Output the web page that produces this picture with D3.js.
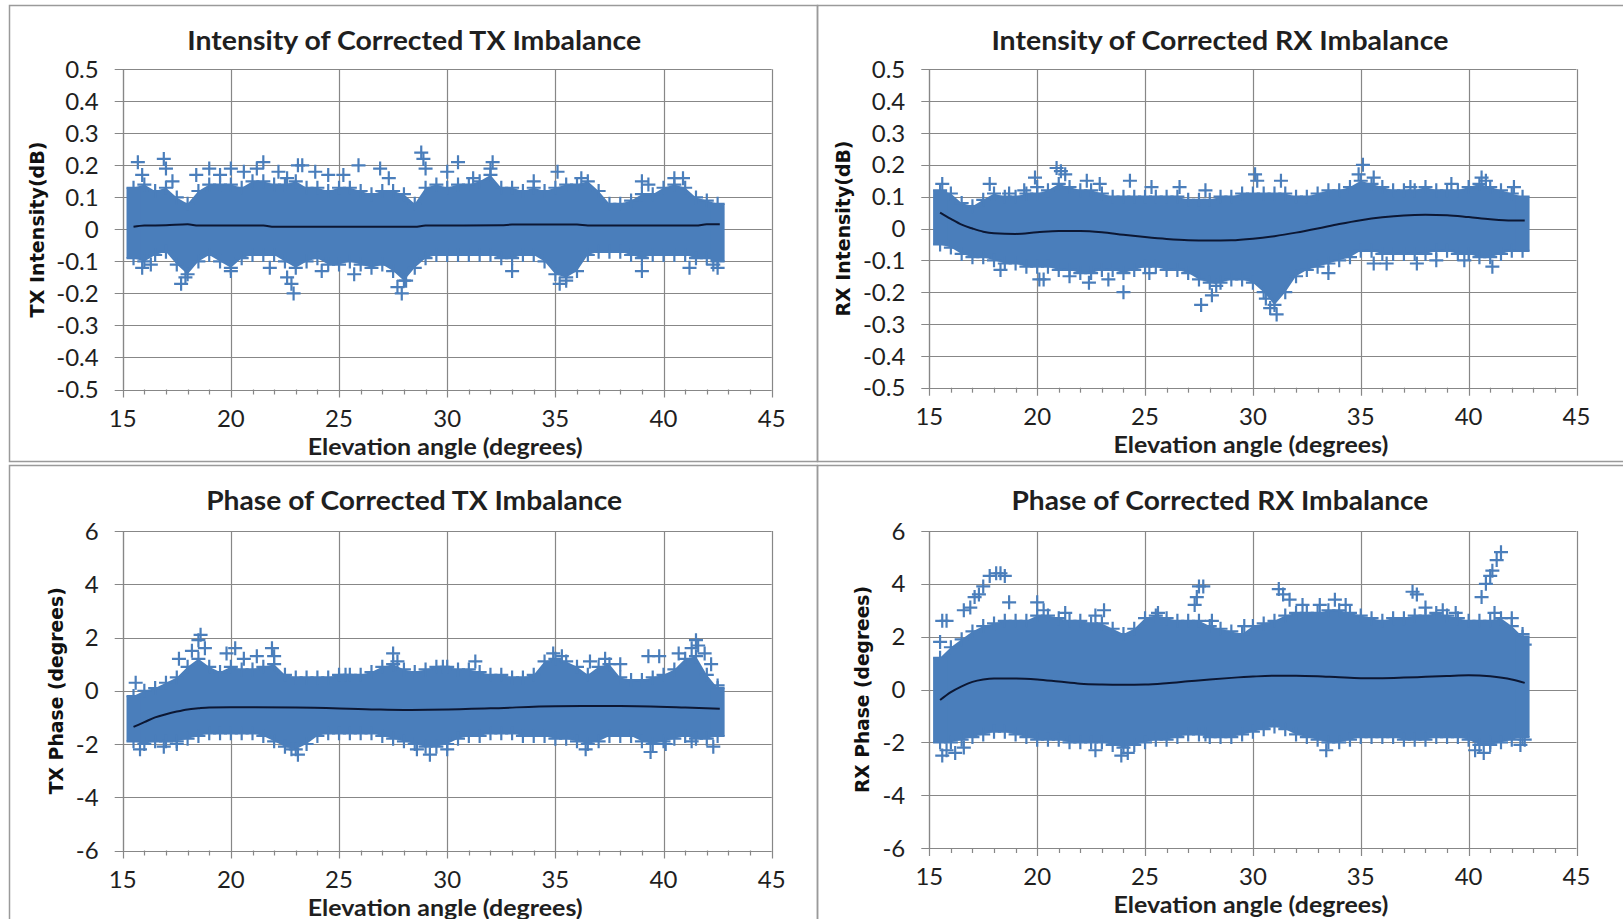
<!DOCTYPE html>
<html>
<head>
<meta charset="utf-8">
<script src="https://cdn.jsdelivr.net/npm/d3@7/dist/d3.min.js"></script>
<style>
html,body{margin:0;padding:0;background:#fff;}
svg{display:block;}
</style>
</head>
<body>
<svg id="fig" width="1623" height="919"></svg>
<script>
// ---------------- DATA ----------------
const xTicks = [15, 20, 25, 30, 35, 40, 45];
const intensityTicks = [0.5, 0.4, 0.3, 0.2, 0.1, 0, -0.1, -0.2, -0.3, -0.4, -0.5];
const phaseTicks = [6, 4, 2, 0, -2, -4, -6];

// elevation angles at which the dense band edges were read
const angleSamples = [15.5,16,16.5,17,17.5,18,18.5,19,19.5,20,20.5,21,21.5,22,22.5,23,23.5,24,24.5,25,
  25.5,26,26.5,27,27.5,28,28.5,29,29.5,30,30.5,31,31.5,32,32.5,33,33.5,34,34.5,35,
  35.5,36,36.5,37,37.5,38,38.5,39,39.5,40,40.5,41,41.5,42,42.5];

// --- TX intensity (dB)
const txIntHi = [0.13,0.14,0.12,0.13,0.10,0.08,0.12,0.14,0.14,0.14,0.13,0.15,0.15,0.14,0.14,0.15,0.13,0.13,0.12,0.13,
  0.13,0.12,0.11,0.12,0.12,0.11,0.08,0.13,0.14,0.13,0.14,0.14,0.15,0.17,0.13,0.13,0.12,0.13,0.12,0.13,
  0.14,0.14,0.15,0.12,0.08,0.08,0.09,0.11,0.11,0.13,0.14,0.13,0.10,0.09,0.08];
const txIntLo = [-0.09,-0.10,-0.08,-0.07,-0.11,-0.14,-0.10,-0.08,-0.10,-0.12,-0.09,-0.08,-0.08,-0.08,-0.10,-0.12,-0.10,-0.09,-0.11,-0.11,
  -0.10,-0.11,-0.12,-0.11,-0.13,-0.16,-0.12,-0.09,-0.08,-0.08,-0.08,-0.08,-0.08,-0.08,-0.09,-0.09,-0.08,-0.08,-0.10,-0.14,
  -0.15,-0.13,-0.08,-0.07,-0.07,-0.07,-0.08,-0.09,-0.08,-0.08,-0.08,-0.08,-0.09,-0.09,-0.10];
const txIntOutliers = [[15.7,0.21],[15.9,0.17],[16.9,0.22],[17.0,0.19],[17.3,0.15],[18.4,0.17],[19.0,0.19],[19.5,0.17],
  [20.0,0.19],[20.6,0.18],[21.2,0.19],[21.5,0.21],[22.2,0.18],[22.6,0.16],[23.1,0.20],[23.3,0.20],[23.9,0.18],[24.5,0.17],
  [25.2,0.17],[25.9,0.20],[26.9,0.19],[27.3,0.16],[28.8,0.24],[28.9,0.22],[29.0,0.19],[30.0,0.18],[30.5,0.21],[31.2,0.16],
  [32.1,0.21],[32.0,0.19],[34.0,0.15],[35.1,0.18],[36.2,0.16],[39.0,0.15],[39.3,0.14],[40.5,0.16],[40.9,0.16],
  [15.9,-0.12],[16.3,-0.11],[17.7,-0.17],[17.9,-0.15],[20.0,-0.13],[21.8,-0.12],[22.9,-0.20],[22.8,-0.17],[22.6,-0.15],
  [24.2,-0.13],[25.7,-0.14],[27.9,-0.20],[27.7,-0.18],[28.1,-0.16],[33.0,-0.13],[35.2,-0.17],[35.5,-0.16],[39.0,-0.13],
  [41.2,-0.12],[42.3,-0.11],[42.5,-0.12]];
const txIntTrendX = [15.5,16,17,18,18.5,20,21.5,22,25,28.5,29,32.5,33,36,36.5,41.5,42,42.6];
const txIntTrendY = [0.008,0.012,0.013,0.016,0.012,0.012,0.012,0.008,0.008,0.008,0.012,0.013,0.015,0.015,0.012,0.012,0.016,0.016];

// --- RX intensity (dB)
const rxIntHi = [0.12,0.11,0.08,0.07,0.09,0.11,0.10,0.10,0.11,0.11,0.12,0.14,0.13,0.12,0.12,0.11,0.10,0.10,0.10,0.10,
  0.10,0.10,0.10,0.09,0.09,0.09,0.10,0.10,0.11,0.11,0.11,0.11,0.11,0.10,0.10,0.11,0.12,0.12,0.13,0.15,
  0.14,0.13,0.12,0.12,0.12,0.13,0.12,0.12,0.12,0.13,0.14,0.13,0.12,0.11,0.10];
const rxIntLo = [-0.05,-0.06,-0.08,-0.09,-0.09,-0.10,-0.11,-0.11,-0.12,-0.12,-0.12,-0.13,-0.13,-0.14,-0.14,-0.13,-0.13,-0.14,-0.13,-0.12,
  -0.12,-0.13,-0.13,-0.14,-0.16,-0.17,-0.17,-0.16,-0.16,-0.17,-0.20,-0.24,-0.20,-0.15,-0.13,-0.12,-0.11,-0.10,-0.09,-0.07,
  -0.07,-0.08,-0.08,-0.08,-0.08,-0.08,-0.07,-0.07,-0.08,-0.08,-0.09,-0.09,-0.08,-0.07,-0.07];
const rxIntOutliers = [[15.6,0.14],[17.8,0.14],[18.7,0.11],[19.4,0.12],[19.9,0.16],[20.0,0.13],[20.9,0.19],[21.1,0.18],
  [21.3,0.17],[22.3,0.15],[22.9,0.14],[24.3,0.15],[25.3,0.13],[26.6,0.13],[27.8,0.12],[30.1,0.17],[30.2,0.15],[31.3,0.15],
  [35.1,0.20],[34.9,0.17],[35.6,0.16],[37.3,0.13],[39.2,0.14],[40.6,0.16],[40.8,0.15],[42.1,0.13],
  [18.3,-0.13],[20.1,-0.16],[20.3,-0.16],[21.5,-0.15],[22.4,-0.17],[23.3,-0.16],[24.0,-0.20],[25.2,-0.14],[27.6,-0.24],
  [28.1,-0.21],[28.3,-0.18],[30.8,-0.25],[31.1,-0.27],[30.6,-0.22],[33.5,-0.14],[35.6,-0.11],[36.2,-0.11],[37.6,-0.11],
  [38.5,-0.10],[39.8,-0.10],[41.1,-0.12]];
const rxIntTrendX = [15.5,16,16.5,17,17.5,18,19,20,21,22,23,24,25,26,27,28,29,30,31,32,33,34,35,36,37,38,39,40,41,42,42.6];
const rxIntTrendY = [0.05,0.03,0.012,0.0,-0.01,-0.015,-0.017,-0.012,-0.008,-0.008,-0.012,-0.02,-0.027,-0.033,-0.037,-0.038,
  -0.037,-0.032,-0.024,-0.013,0.0,0.014,0.026,0.035,0.041,0.043,0.042,0.036,0.029,0.025,0.025];

// --- TX phase (degrees)
const txPhHi = [-0.2,0.0,0.1,0.3,0.5,0.9,1.2,0.9,0.7,0.9,0.8,0.8,0.9,1.0,0.6,0.5,0.5,0.5,0.5,0.6,
  0.6,0.6,0.7,0.9,1.0,0.8,0.7,0.8,0.9,0.9,0.8,0.8,0.7,0.6,0.6,0.5,0.5,0.6,1.1,1.2,
  1.1,0.9,0.6,0.9,1.0,0.5,0.4,0.4,0.5,0.6,0.8,1.2,1.3,0.6,0.1];
const txPhLo = [-1.9,-2.0,-1.9,-1.9,-1.9,-1.8,-1.7,-1.6,-1.6,-1.6,-1.6,-1.6,-1.7,-1.9,-2.1,-2.2,-2.0,-1.7,-1.6,-1.6,
  -1.6,-1.6,-1.6,-1.7,-1.8,-1.9,-2.0,-2.1,-2.1,-2.0,-1.8,-1.7,-1.7,-1.6,-1.6,-1.6,-1.7,-1.7,-1.7,-1.8,
  -1.8,-1.9,-2.0,-1.9,-1.7,-1.7,-1.7,-1.9,-2.0,-1.9,-1.8,-1.7,-1.8,-1.8,-1.7];
const txPhOutliers = [[15.6,0.3],[17.6,1.2],[18.2,1.5],[18.5,1.9],[18.6,2.1],[18.8,1.6],[19.8,1.4],[20.2,1.6],[20.6,1.2],
  [21.2,1.3],[21.9,1.6],[22.0,1.3],[25.3,0.6],[27.5,1.4],[27.7,1.1],[29.8,0.9],[31.3,1.1],[34.9,1.4],[35.3,1.3],[36.6,1.1],
  [37.3,1.2],[38.0,1.0],[39.3,1.3],[39.8,1.3],[40.7,1.4],[41.3,1.6],[41.5,1.9],[41.6,1.7],[41.9,1.4],[42.2,1.0],[42.5,0.2],
  [15.8,-2.2],[16.9,-2.1],[17.5,-2.0],[23.1,-2.4],[22.8,-2.2],[28.6,-2.2],[29.2,-2.4],[30.0,-2.2],[36.4,-2.2],[39.4,-2.3],
  [40.1,-2.0],[41.3,-1.9],[42.3,-2.1]];
const txPhTrendX = [15.5,16,16.5,17,17.5,18,18.5,19,20,23,26.5,28,32,35,38,41,42.6];
const txPhTrendY = [-1.36,-1.18,-1.0,-0.88,-0.78,-0.7,-0.66,-0.63,-0.62,-0.63,-0.7,-0.72,-0.66,-0.58,-0.57,-0.63,-0.68];

// --- RX phase (degrees)
const rxPhHi = [1.2,1.6,1.9,2.2,2.4,2.5,2.6,2.6,2.6,2.8,2.8,2.7,2.6,2.6,2.5,2.5,2.3,2.1,2.3,2.7,
  2.8,2.7,2.6,2.6,2.6,2.4,2.3,2.2,2.1,2.4,2.5,2.6,2.8,2.9,2.9,2.9,3.0,3.0,2.9,2.8,
  2.7,2.6,2.7,2.7,2.8,2.8,2.9,2.8,2.7,2.6,2.6,2.6,2.7,2.4,2.0];
const rxPhLo = [-2.0,-2.0,-1.9,-1.8,-1.7,-1.6,-1.6,-1.7,-1.8,-1.9,-1.9,-1.9,-2.0,-2.0,-2.0,-2.0,-2.1,-2.2,-2.1,-2.0,
  -1.9,-1.9,-1.8,-1.7,-1.7,-1.8,-1.8,-1.8,-1.7,-1.6,-1.5,-1.4,-1.5,-1.7,-1.8,-1.9,-2.0,-2.0,-1.9,-1.8,
  -1.8,-1.8,-1.8,-1.9,-1.9,-1.9,-1.8,-1.8,-1.8,-1.9,-2.1,-2.1,-2.0,-1.9,-1.8];
const rxPhOutliers = [[15.6,2.6],[15.8,2.6],[15.5,1.8],[16.6,3.0],[16.9,3.1],[17.1,3.5],[17.3,3.6],[17.5,3.9],[17.8,4.3],
  [18.1,4.4],[18.3,4.4],[18.5,4.3],[18.7,3.3],[20.0,3.3],[20.3,3.0],[21.3,2.9],[22.7,2.8],[23.1,3.0],[25.6,2.9],[27.4,3.5],
  [27.5,3.9],[27.7,3.9],[27.3,3.2],[28.1,2.6],[29.6,2.4],[31.2,3.8],[31.4,3.6],[31.7,3.4],[32.3,3.2],[33.1,3.2],[33.8,3.4],
  [34.3,3.2],[37.4,3.7],[37.6,3.6],[38.0,3.1],[38.8,3.0],[39.4,2.9],[40.6,3.5],[40.8,4.0],[41.0,4.3],[41.1,4.5],[41.3,4.9],
  [41.5,5.2],[41.2,2.9],[42.0,2.7],[42.5,2.1],[42.6,1.7],
  [15.6,-2.5],[15.8,-2.3],[16.2,-2.4],[16.6,-2.2],[22.7,-2.3],[23.9,-2.5],[24.2,-2.4],[27.8,-1.7],[33.4,-2.3],[40.3,-2.3],
  [40.7,-2.4],[41.0,-2.0],[42.4,-2.1],[42.6,-1.9]];
const rxPhTrendX = [15.5,16,16.5,17,17.5,18,19,20,21,22,23,24,25,26,27,28,29,30,31,32,33,34,35,36,37,38,39,40,41,42,42.6];
const rxPhTrendY = [-0.4,-0.1,0.12,0.29,0.38,0.42,0.42,0.38,0.3,0.22,0.19,0.18,0.19,0.24,0.31,0.38,0.44,0.49,0.52,0.52,
  0.5,0.46,0.43,0.43,0.45,0.48,0.51,0.54,0.5,0.38,0.25];

const titles = ["Intensity of Corrected TX Imbalance", "Intensity of Corrected RX Imbalance",
                "Phase of Corrected TX Imbalance", "Phase of Corrected RX Imbalance"];
const yTitles = ["TX Intensity(dB)", "RX Intensity(dB)", "TX Phase (degrees)", "RX Phase (degrees)"];
const xTitle = "Elevation angle (degrees)";

// ---------------- LAYOUT ----------------
const panels = [
  {box:[9,5,808,456], px:[122.7,771.7], py:[69.3,389.5], dom:[-0.5,0.5], ticks:intensityTicks, fmt:v=>v===0?"0":v.toFixed(1),
   hi:txIntHi, lo:txIntLo, out:txIntOutliers, tx:txIntTrendX, ty:txIntTrendY, title:titles[0], yt:yTitles[0],
   titleW:454, ytX:37, ytLen:176},
  {box:[817,5,820,456], px:[929.3,1576.5], py:[69.3,387.7], dom:[-0.5,0.5], ticks:intensityTicks, fmt:v=>v===0?"0":v.toFixed(1),
   hi:rxIntHi, lo:rxIntLo, out:rxIntOutliers, tx:rxIntTrendX, ty:rxIntTrendY, title:titles[1], yt:yTitles[1],
   titleW:457, ytX:843, ytLen:176},
  {box:[9,465,808,470], px:[122.7,771.7], py:[531,850.5], dom:[-6,6], ticks:phaseTicks, fmt:v=>String(v),
   hi:txPhHi, lo:txPhLo, out:txPhOutliers, tx:txPhTrendX, ty:txPhTrendY, title:titles[2], yt:yTitles[2],
   titleW:416, ytX:56, ytLen:207},
  {box:[817,465,820,470], px:[929.3,1576.5], py:[531,848], dom:[-6,6], ticks:phaseTicks, fmt:v=>String(v),
   hi:rxPhHi, lo:rxPhLo, out:rxPhOutliers, tx:rxPhTrendX, ty:rxPhTrendY, title:titles[3], yt:yTitles[3],
   titleW:417, ytX:862, ytLen:207}
];

const svg = d3.select("#fig");
const gridCol = "#878787";
const markCol = "#4a7ebb";
const textCol = "#1f1f1f";
const plus = "M-7,0H7M0,-7V7";

panels.forEach(p => {
  const g = svg.append("g");
  // panel frame
  g.append("rect").attr("x", p.box[0]+0.5).attr("y", p.box[1]+0.5)
    .attr("width", p.box[2]).attr("height", p.box[3])
    .attr("fill", "none").attr("stroke", "#9a9a9a").attr("stroke-width", 1.5);

  const x = d3.scaleLinear().domain([15, 45]).range(p.px);
  const y = d3.scaleLinear().domain(p.dom).range([p.py[1], p.py[0]]);

  // horizontal gridlines
  g.append("g").selectAll("line").data(p.ticks).join("line")
    .attr("x1", p.px[0] - 8).attr("x2", p.px[1])
    .attr("y1", d => Math.round(y(d)) + 0.5).attr("y2", d => Math.round(y(d)) + 0.5)
    .attr("stroke", gridCol).attr("stroke-width", 1.2);
  // vertical gridlines
  g.append("g").selectAll("line").data(xTicks).join("line")
    .attr("x1", d => Math.round(x(d)) + 0.5).attr("x2", d => Math.round(x(d)) + 0.5)
    .attr("y1", p.py[0]).attr("y2", p.py[1] + 8)
    .attr("stroke", gridCol).attr("stroke-width", 1.2);
  // minor ticks on x axis
  const minor = d3.range(16, 45, 1).filter(v => v % 5 !== 0);
  g.append("g").selectAll("line").data(minor).join("line")
    .attr("x1", d => Math.round(x(d)) + 0.5).attr("x2", d => Math.round(x(d)) + 0.5)
    .attr("y1", p.py[1]).attr("y2", p.py[1] + 5)
    .attr("stroke", gridCol).attr("stroke-width", 1.2);
  // left axis line
  g.append("line").attr("x1", Math.round(p.px[0]) + 0.5).attr("x2", Math.round(p.px[0]) + 0.5)
    .attr("y1", p.py[0]).attr("y2", p.py[1]).attr("stroke", gridCol).attr("stroke-width", 1.2);

  // y tick labels
  g.append("g").selectAll("text").data(p.ticks).join("text")
    .attr("x", p.px[0] - 24).attr("y", d => y(d))
    .attr("dy", "0.36em").attr("text-anchor", "end")
    .attr("font-family", "Lato, 'Open Sans', sans-serif").attr("font-size", 24)
    .attr("fill", textCol).text(p.fmt);
  // x tick labels
  g.append("g").selectAll("text").data(xTicks).join("text")
    .attr("x", d => x(d)).attr("y", p.py[1] + 37)
    .attr("text-anchor", "middle")
    .attr("font-family", "Lato, 'Open Sans', sans-serif").attr("font-size", 24)
    .attr("fill", textCol).text(d => d);

  // dense band of "+" markers (core envelope)
  const band = angleSamples.map((a, i) => ({a, hi: p.hi[i], lo: p.lo[i]}));
  g.append("path").datum(band)
    .attr("d", d3.area().x(d => x(d.a)).y0(d => y(d.lo)).y1(d => y(d.hi)))
    .attr("fill", markCol);
  const edgePts = band.flatMap(d => [[d.a, d.hi], [d.a, d.lo]]);
  const allPts = edgePts.concat(p.out);
  g.append("g").selectAll("path").data(allPts).join("path")
    .attr("d", plus).attr("transform", d => `translate(${x(d[0])},${y(d[1])})`)
    .attr("stroke", markCol).attr("stroke-width", 2.2).attr("fill", "none");
  // vertical edges at both ends
  [band[0], band[band.length-1]].forEach(d => {
    g.append("line").attr("x1", x(d.a)).attr("x2", x(d.a)).attr("y1", y(d.hi)).attr("y2", y(d.lo))
      .attr("stroke", markCol).attr("stroke-width", 14);
  });

  // trend line
  const tr = p.tx.map((a, i) => [a, p.ty[i]]);
  g.append("path").datum(tr)
    .attr("d", d3.line().x(d => x(d[0])).y(d => y(d[1])).curve(d3.curveMonotoneX))
    .attr("fill", "none").attr("stroke", "#0c1733").attr("stroke-width", 2);

  // titles
  const cx = (p.px[0] + p.px[1]) / 2 - 33;
  g.append("text").attr("x", cx).attr("y", p.box[1] + 45)
    .attr("text-anchor", "middle").attr("font-family", "Lato, 'Open Sans', sans-serif")
    .attr("font-weight", "bold").attr("font-size", 26).attr("fill", textCol)
    .attr("textLength", p.titleW).attr("lengthAdjust", "spacingAndGlyphs")
    .text(p.title);
  g.append("text").attr("x", (p.px[0] + p.px[1]) / 2 - 2).attr("y", p.py[1] + 65)
    .attr("text-anchor", "middle").attr("font-family", "Lato, 'Open Sans', sans-serif")
    .attr("font-weight", "bold").attr("font-size", 22).attr("fill", textCol)
    .attr("textLength", 275).attr("lengthAdjust", "spacingAndGlyphs")
    .text(xTitle);
  const cy = (p.py[0] + p.py[1]) / 2;
  g.append("text").attr("transform", `translate(${p.ytX + 7},${cy}) rotate(-90)`)
    .attr("text-anchor", "middle").attr("font-family", "'DejaVu Sans', Verdana, sans-serif")
    .attr("font-weight", "bold").attr("font-size", 20).attr("fill", "#111")
    .attr("textLength", p.ytLen).attr("lengthAdjust", "spacingAndGlyphs")
    .text(p.yt);
});
</script>
</body>
</html>
